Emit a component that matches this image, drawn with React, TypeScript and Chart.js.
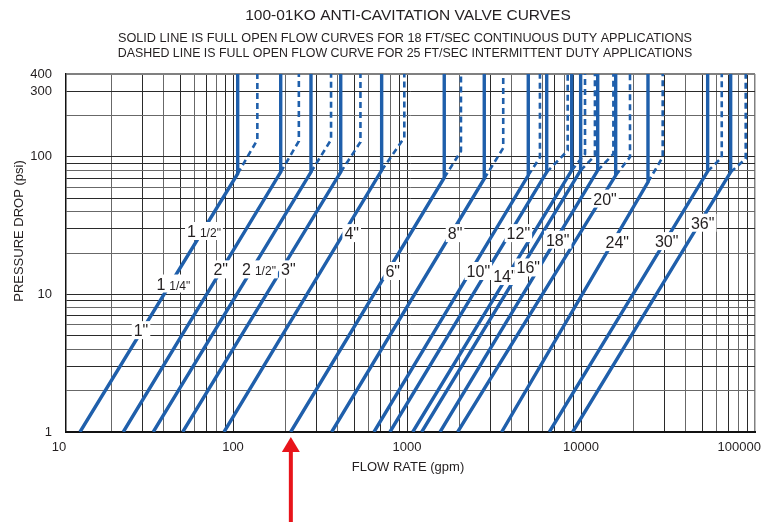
import React, { useEffect, useRef } from "react";
import { Chart, registerables } from "chart.js";

Chart.register(...registerables);

// ---- data ----
const valveLines = ['1" / 1 1/4" / 1 1/2"', '2"', '2 1/2"', '3"', '4"', '6"', '8"', '10"', '12"', '14"', '16"', '18"', '20"', '24"', '30"', '36"'];
// flow (gpm) of each full-open curve at 1 psi
const flowAt1Psi = [13.2, 23.4, 34.8, 51.4, 88.8, 214.6, 369, 646, 798, 1079, 1215, 1549, 1955, 3500, 6577, 8955];
// pressure drop (psi) where the solid curve turns vertical (18 ft/s limit)
const solidCornerPsi = [75.4, 77.4, 77.4, 77.4, 79.7, 70.5, 69.3, 73.3, 77.4, 79.7, 79.7, 79.7, 73.3, 65.5, 78.5, 77.4];
// max flow (gpm) at 18 ft/s
const maxFlow18 = [106.4, 188, 280.6, 416, 715, 1637, 2780, 4977, 6353, 8844, 9954, 12474, 15824, 24265, 53450, 72470];
// pressure drop (psi) where the dashed curve turns vertical (25 ft/s limit)
const dashCornerPsi = [133, 130, 133, 128, 138, 110, 116, 99, 111, 105, 102, 105, 99.5, 99.5, 99, 97];
// max flow (gpm) at 25 ft/s
const maxFlow25 = [138, 239, 366, 540, 965, 2042, 3573, 5807, 8386, 10545, 12024, 15351, 19125, 29480, 64400, 88440];

// size labels
const labelMain = ['1"', "1", "1", '2"', "2", '3"', '4"', '6"', '8"', '10"', '12"', '14"', '16"', '18"', '20"', '24"', '30"', '36"'];
const labelFrac = ["", '1/4"', '1/2"', "", '1/2"', "", "", "", "", "", "", "", "", "", "", "", "", ""];
const labelFlow = [29.6, 45.4, 68.1, 85, 141, 208, 481, 828, 1888, 2571, 4365, 3656, 4977, 7345, 13740, 16170, 31080, 50060];
const labelPsi = [5.5, 12.0, 28.9, 15.2, 15.2, 15.2, 27.9, 14.8, 27.9, 14.8, 27.9, 13.6, 15.7, 25, 49.7, 24.0, 24.4, 33.2];

const xGridValues = [
  20, 30, 40, 50, 60, 70, 80, 90,
  100, 200, 300, 400, 500, 600, 700, 800, 900,
  1000, 2000, 3000, 4000, 5000, 6000, 7000, 8000, 9000,
  10000, 20000, 30000, 40000, 50000, 60000, 70000, 80000, 90000,
  100000,
];
const yGridValues = [1, 2, 3, 4, 5, 6, 7, 8, 9, 10, 20, 30, 40, 50, 60, 70, 80, 90, 100, 200, 300, 400];
const xTickLabels = [10, 100, 1000, 10000, 100000];
const yTickLabels = [1, 10, 100, 300, 400];
const arrowFlow = 215;

const titleText = "100-01KO ANTI-CAVITATION VALVE CURVES";
const subtitle1 = "SOLID LINE IS FULL OPEN FLOW CURVES FOR 18 FT/SEC CONTINUOUS DUTY APPLICATIONS";
const subtitle2 = "DASHED LINE IS FULL OPEN FLOW CURVE FOR 25 FT/SEC INTERMITTENT DUTY APPLICATIONS";
const xTitle = "FLOW RATE (gpm)";
const yTitle = "PRESSURE DROP (psi)";

const FONT = '"Liberation Sans", Arial, Helvetica, sans-serif';
const BLUE = "#1f5fab";
const TEXT = "#231f20";

function gridColor(v: number, max: number) {
  if (v === max) return "#808080";
  const m = Math.round(v / Math.pow(10, Math.floor(Math.log10(v) + 1e-9)));
  return m % 2 === 1 ? "#2a2a2a" : "#686868";
}

const overlay = {
  id: "overlay",
  afterDatasetsDraw(chart: any) {
    const { ctx } = chart;
    const x = chart.scales.x;
    const y = chart.scales.y;
    ctx.save();
    for (let i = 0; i < labelMain.length; i++) {
      const px = x.getPixelForValue(labelFlow[i]);
      const py = y.getPixelForValue(labelPsi[i]);
      ctx.font = `16px ${FONT}`;
      const w1 = ctx.measureText(labelMain[i]).width;
      let w2 = 0;
      let gap = 0;
      if (labelFrac[i]) {
        ctx.font = `12px ${FONT}`;
        w2 = ctx.measureText(labelFrac[i]).width;
        gap = 4;
      }
      const w = w1 + gap + w2;
      ctx.fillStyle = "#ffffff";
      ctx.fillRect(px - w / 2 - 2, py - 9, w + 4, 18);
      ctx.fillStyle = TEXT;
      ctx.textAlign = "left";
      ctx.textBaseline = "alphabetic";
      ctx.font = `16px ${FONT}`;
      ctx.fillText(labelMain[i], px - w / 2, py + 6);
      if (labelFrac[i]) {
        ctx.font = `12px ${FONT}`;
        ctx.fillText(labelFrac[i], px - w / 2 + w1 + gap, py + 6);
      }
    }
    ctx.restore();
  },
  afterDraw(chart: any) {
    const { ctx, chartArea } = chart;
    const x = chart.scales.x;
    const y = chart.scales.y;
    ctx.save();
    ctx.fillStyle = TEXT;
    ctx.textBaseline = "middle";
    ctx.textAlign = "center";
    ctx.font = `15.5px ${FONT}`;
    ctx.fillText(titleText, 408, 16);
    ctx.font = `12.7px ${FONT}`;
    ctx.fillText(subtitle1, 405, 38);
    ctx.font = `12.4px ${FONT}`;
    ctx.fillText(subtitle2, 405, 54);

    // tick labels
    ctx.font = `13px ${FONT}`;
    for (const v of xTickLabels) {
      const s = String(v);
      const w = ctx.measureText(s).width;
      let cx = x.getPixelForValue(v);
      cx = Math.min(cx, chart.width - 12 - w / 2);
      ctx.fillText(s, cx, chartArea.bottom + 15);
    }
    ctx.textAlign = "right";
    for (const v of yTickLabels) {
      ctx.fillText(String(v), chartArea.left - 14, y.getPixelForValue(v));
    }

    // axis titles
    ctx.textAlign = "center";
    ctx.font = `13px ${FONT}`;
    ctx.fillText(xTitle, 408, 467);
    ctx.save();
    ctx.translate(19, 231);
    ctx.rotate(-Math.PI / 2);
    ctx.fillText(yTitle, 0, 0);
    ctx.restore();

    // red arrow
    const ax = x.getPixelForValue(arrowFlow);
    const tip = chartArea.bottom + 5;
    ctx.fillStyle = "#e8141b";
    ctx.beginPath();
    ctx.moveTo(ax, tip);
    ctx.lineTo(ax + 9, tip + 15);
    ctx.lineTo(ax - 9, tip + 15);
    ctx.closePath();
    ctx.fill();
    ctx.fillRect(ax - 2, tip + 14, 4, 522 - (tip + 14));
    ctx.restore();
  },
};

export default function App() {
  const ref = useRef<HTMLCanvasElement | null>(null);

  useEffect(() => {
    if (!ref.current) return;
    const datasets: any[] = [];
    for (let i = 0; i < valveLines.length; i++) {
      datasets.push({
        label: valveLines[i] + " 18 ft/s",
        data: [
          { x: flowAt1Psi[i], y: 1 },
          { x: maxFlow18[i], y: solidCornerPsi[i] },
          { x: maxFlow18[i], y: 400 },
        ],
        borderColor: BLUE,
        borderWidth: 3.4,
        borderJoinStyle: "miter",
        pointRadius: 0,
        fill: false,
      });
      datasets.push({
        label: valveLines[i] + " 25 ft/s",
        data: [
          { x: maxFlow18[i], y: solidCornerPsi[i] },
          { x: maxFlow25[i], y: dashCornerPsi[i] },
          { x: maxFlow25[i], y: 400 },
        ],
        borderColor: BLUE,
        borderWidth: 2.6,
        borderDash: [6, 4],
        pointRadius: 0,
        fill: false,
      });
    }

    const chart = new Chart(ref.current, {
      type: "line",
      data: { datasets },
      options: {
        animation: false,
        responsive: false,
        devicePixelRatio: 1,
        layout: { padding: { top: 74, right: 18, left: 0, bottom: 0 } },
        plugins: { legend: { display: false }, tooltip: { enabled: false }, title: { display: false } },
        scales: {
          x: {
            type: "logarithmic",
            min: 10.97,
            max: 100000,
            ticks: { display: false, autoSkip: false },
            grid: {
              drawTicks: false,
              lineWidth: (c: any) => (c.tick && c.tick.value === 100000 ? 1.5 : 1),
              color: (c: any) => gridColor(c.tick ? c.tick.value : 1, 100000),
            },
            border: { display: true, color: "#111", width: 2 },
            afterBuildTicks: (s: any) => {
              s.ticks = xGridValues.map((v) => ({ value: v }));
            },
            afterFit: (s: any) => {
              s.height = 93;
            },
          },
          y: {
            type: "logarithmic",
            min: 1,
            max: 400,
            ticks: { display: false, autoSkip: false },
            grid: {
              drawTicks: false,
              lineWidth: (c: any) => (c.tick && c.tick.value === 400 ? 2 : 1),
              color: (c: any) => gridColor(c.tick ? c.tick.value : 1, 400),
            },
            border: { display: true, color: "#111", width: 1.5 },
            afterBuildTicks: (s: any) => {
              s.ticks = yGridValues.map((v) => ({ value: v }));
            },
            afterFit: (s: any) => {
              s.width = 66;
            },
          },
        },
      } as any,
      plugins: [overlay],
    });
    return () => chart.destroy();
  }, []);

  return (
    <div style={{ position: "absolute", left: 0, top: 0, width: 773, height: 525, background: "#fff" }}>
      <canvas ref={ref} width={773} height={525} style={{ display: "block" }} />
    </div>
  );
}
